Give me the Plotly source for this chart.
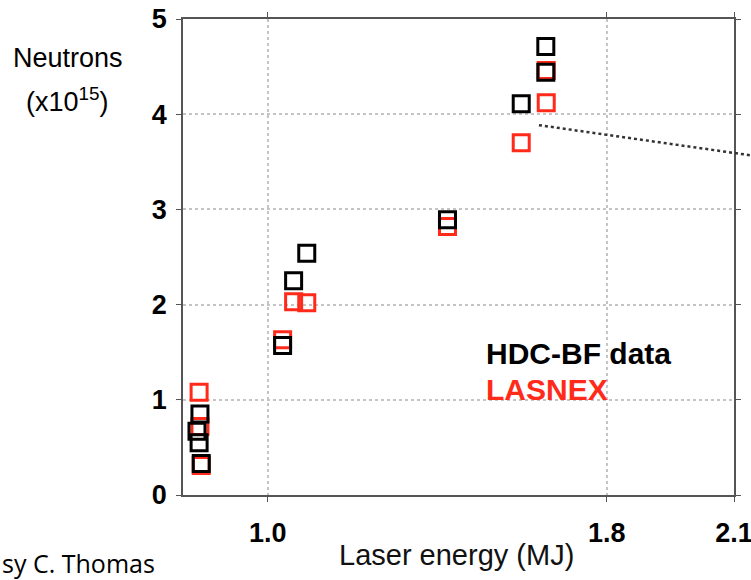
import plotly.graph_objects as go

# Data
hdc_x = [0.840, 0.833, 0.838, 0.843, 1.035, 1.061, 1.092, 1.424, 1.598, 1.656, 1.656]
hdc_y = [0.85, 0.67, 0.55, 0.33, 1.57, 2.25, 2.54, 2.89, 4.11, 4.71, 4.44]
lasnex_x = [0.838, 0.840, 0.843, 1.035, 1.061, 1.092, 1.424, 1.598, 1.657, 1.657]
lasnex_y = [1.08, 0.72, 0.31, 1.63, 2.03, 2.02, 2.82, 3.70, 4.46, 4.12]
x_ticks = [1.0, 1.8, 2.1]
x_tick_labels = ["1.0", "1.8", "2.1"]
y_ticks = [0, 1, 2, 3, 4, 5]

RED = "#ff2a1a"
FONT = "Liberation Sans"

fig = go.Figure()
fig.add_trace(go.Scatter(
    x=lasnex_x, y=lasnex_y, mode="markers", name="LASNEX",
    marker=dict(symbol="square-open", size=16, color=RED, line=dict(width=3, color=RED)),
    cliponaxis=False,
))
fig.add_trace(go.Scatter(
    x=hdc_x, y=hdc_y, mode="markers", name="HDC-BF data",
    marker=dict(symbol="square-open", size=16, color="black", line=dict(width=3, color="black")),
    cliponaxis=False,
))

axis_common = dict(
    showline=True, linecolor="#555", linewidth=1.5, mirror="ticks",
    ticks="outside", ticklen=5, tickcolor="#555",
    showgrid=True, gridcolor="#c4c4c4", griddash="dot", gridwidth=1.5,
    zeroline=False, automargin=False, ticklabeloverflow="allow",
    tickfont=dict(family=FONT, size=27, color="black", weight="bold"),
)

fig.update_layout(
    width=751, height=580,
    margin=dict(l=183, r=17, t=19, b=85),
    plot_bgcolor="white", paper_bgcolor="white",
    showlegend=False,
    xaxis=dict(range=[0.8, 2.1], tickvals=x_ticks, ticktext=x_tick_labels,
               ticklabelstandoff=8, **axis_common),
    yaxis=dict(range=[0, 5], tickvals=y_ticks, ticklabelstandoff=4, **axis_common),
    font=dict(family=FONT),
)

# Annotation dotted line (extends beyond plot area)
fig.add_shape(type="line", xref="paper", yref="paper",
              x0=0.646, y0=0.777, x1=1.04, y1=0.712,
              line=dict(color="#333", width=2.5, dash="dot"))

annos = [
    dict(text="Neutrons", x=-0.209, y=0.918, size=27, color="black", bold=False, xanchor="center"),
    dict(text="(x10<sup>15</sup>)", x=-0.209, y=0.830, size=27, color="black", bold=False, xanchor="center"),
    dict(text="HDC-BF data", x=0.546, y=0.298, size=30, color="black", bold=True, xanchor="left"),
    dict(text="LASNEX", x=0.546, y=0.221, size=30, color=RED, bold=True, xanchor="left"),
    dict(text="Laser energy (MJ)", x=0.496, y=-0.126, size=29, color="#111", bold=False, xanchor="center"),
]
for a in annos:
    fig.add_annotation(
        text=a["text"], x=a["x"], y=a["y"], xref="paper", yref="paper",
        xanchor=a["xanchor"], yanchor="middle", showarrow=False,
        font=dict(family=FONT, size=a["size"], color=a["color"],
                  weight="bold" if a["bold"] else "normal"),
    )

fig.add_annotation(text="sy C. Thomas", x=-0.332, y=-0.143, xref="paper", yref="paper",
                   xanchor="left", yanchor="middle", showarrow=False,
                   font=dict(family="Open Sans", size=25, color="black"))

fig.write_html("out.html")
